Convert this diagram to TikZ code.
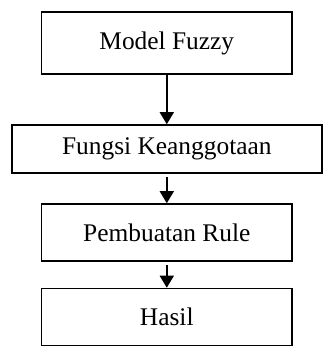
\documentclass[tikz,border=0pt]{standalone}
\usepackage{fontspec}
\setmainfont{Liberation Serif}
\usetikzlibrary{arrows.meta}
\begin{document}
\begin{tikzpicture}[x=1bp,y=-1bp,
  box/.style={draw=black, line width=1.6bp, inner sep=0pt, minimum width=250.5bp,
    font=\fontsize{25.5}{30}\selectfont, text=black},
  flow/.style={line width=1.6bp, -{Triangle[width=14bp,length=12bp]}}]
\useasboundingbox (0,0) rectangle (331,356);
\node[box, minimum height=61.7bp] (model) at (166.8,43) {Model Fuzzy};
\node[box, minimum width=310bp, minimum height=48bp] (fungsi) at (166.8,149) {Fungsi Keanggotaan};
\node[box, minimum height=57bp] (rule) at (166.8,232.5) {Pembuatan Rule};
\node[box, minimum height=57bp] (hasil) at (166.8,317) {Hasil};
\draw[flow] (model.south) -- (fungsi.north);
\draw[flow, shorten <=3bp] (fungsi.south) -- (rule.north);
\draw[flow, shorten <=3.5bp] (rule.south) -- (hasil.north);
\end{tikzpicture}
\end{document}
